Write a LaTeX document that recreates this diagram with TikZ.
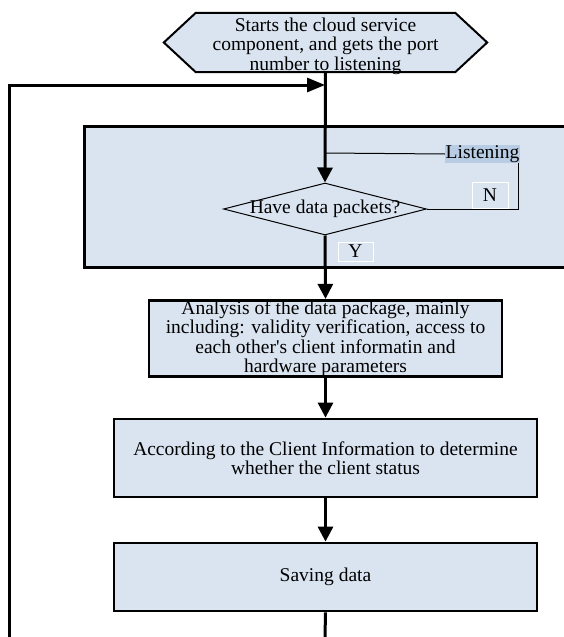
\documentclass[tikz,border=0pt]{standalone}
\usepackage{fontspec}
\setmainfont{Liberation Serif}
\usetikzlibrary{arrows.meta,shapes.geometric}
\definecolor{boxfill}{RGB}{218,228,241}
\definecolor{hlfill}{RGB}{184,204,228}
\tikzset{
  txt/.style={font=\fontsize{19.5}{19.5}\selectfont, align=center},
  procbox/.style={draw, line width=2.8pt, fill=boxfill, inner sep=0pt, txt},
  flowline/.style={line width=3pt},
  arr/.style={flowline, -{Triangle[length=15pt,width=15pt]}},
  thinline/.style={line width=1pt},
  tagbox/.style={draw=white, line width=0.8pt, inner sep=0pt, txt}
}
\begin{document}
\begin{tikzpicture}[x=1pt,y=-1pt]
\useasboundingbox (0,0) rectangle (564,637);
% big box
\node[procbox, anchor=north west, minimum width=495pt, minimum height=141pt] (big) at (83,125) {};
% hexagon start
\node[inner sep=0pt, minimum width=323pt, minimum height=59pt] (start) at (325.5,42.5) {};
\draw[line width=2pt, fill=boxfill] (start.west) -- ([xshift=32pt]start.north west) -- ([xshift=-32pt]start.north east)
  -- (start.east) -- ([xshift=-32pt]start.south east) -- ([xshift=32pt]start.south west) -- cycle;
\node[txt, inner sep=0pt] (starttext) at ([yshift=-3.5pt]start.center) {Starts the cloud service\\component, and gets the port\\number to listening};
% decision
\node[diamond, draw, thinline, fill=boxfill, inner sep=0pt, minimum width=203pt, minimum height=52pt] (dec) at (325,209) {};
\node[txt, inner sep=0pt] (declabel) at (dec) {Have data packets?};
% listening
\node[txt, fill=hlfill, inner sep=0pt, minimum height=18pt, minimum width=75pt] (listen) at (482.5,154) {Listening};
\node[tagbox, minimum width=36pt, minimum height=26pt] (ntag) at (490,195) {N};
\node[tagbox, minimum width=35pt, minimum height=19pt] (ytag) at (355.5,251.5) {Y};
% process boxes
\node[procbox, minimum width=353pt, minimum height=69pt] (ana) at (325.5,338.5)
  {Analysis of the data package, mainly\\including: validity verification, access to\\each other\textquotesingle s client informatin and\\hardware parameters};
\node[procbox, minimum width=423pt, minimum height=78pt] (det) at (325.5,458)
  {According to the Client Information to determine\\whether the client status};
\node[procbox, minimum width=423pt, minimum height=68pt] (save) at (325.5,577) {Saving data};
% coordinates
\coordinate (lj) at (325,153);
\coordinate (join) at (325,85);
\coordinate (loopc) at (9,85);
\coordinate (botl) at (9,637);
\coordinate (bot) at (325,637);
% connectors
\draw[arr] (start.south) -- (dec.north);
\draw[thinline] (lj) -- (listen.west);
\draw[thinline] ([xshift=-2pt]listen.south east) |- (dec.east);
\draw[arr] (dec.south) -- (ana.north);
\draw[arr] (ana.south) -- (det.north);
\draw[arr] (det.south) -- (save.north);
\draw[flowline] (save.south) -- (bot);
\draw[flowline, -{Triangle[length=18pt,width=14pt]}] (botl) -- (loopc) -- (join);
\end{tikzpicture}
\end{document}
